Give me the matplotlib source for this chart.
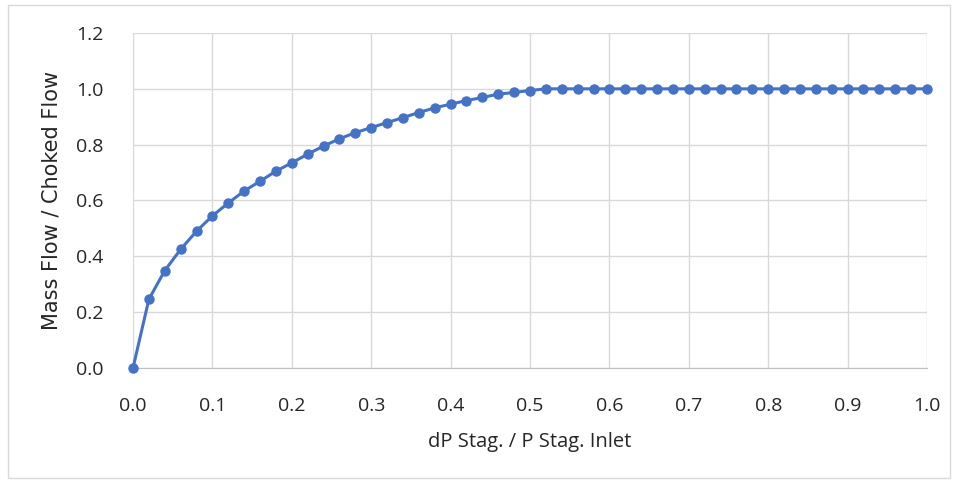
import matplotlib
matplotlib.use('Agg')
import matplotlib.pyplot as plt
import numpy as np

# pressure ratio (x) and normalised mass flow (y)
dp_ratio = [round(0.02 * i, 2) for i in range(51)]
flow_rise = [0.0, 0.246, 0.349, 0.425, 0.490, 0.545, 0.591, 0.634, 0.669, 0.705,
             0.735, 0.766, 0.795, 0.821, 0.843, 0.861, 0.879, 0.897, 0.915, 0.932,
             0.945, 0.958, 0.969, 0.981, 0.987, 0.994]
mass_flow = flow_rise + [1.0] * (len(dp_ratio) - len(flow_rise))

xticks = [0.0, 0.1, 0.2, 0.3, 0.4, 0.5, 0.6, 0.7, 0.8, 0.9, 1.0]
yticks = [0.0, 0.2, 0.4, 0.6, 0.8, 1.0, 1.2]

fig = plt.figure(figsize=(9.59, 4.83), dpi=100)
# outer chart border
fig.patches.append(plt.Rectangle((8 / 959, 5 / 483), 942 / 959, 473 / 483,
                                 transform=fig.transFigure, fill=False,
                                 edgecolor='#d9d9d9', linewidth=1))
ax = fig.add_axes([133 / 959, 1 - 368 / 483, (927 - 133) / 959, (368 - 33) / 483])

ax.plot(dp_ratio, mass_flow, color='#4472C4', linewidth=2.2,
        marker='o', markersize=6.5, zorder=3, clip_on=False)

ax.set_xlim(0, 1.0)
ax.set_ylim(0, 1.2)
ax.set_xticks(xticks)
ax.set_yticks(yticks)
ax.set_xticklabels([f'{t:.1f}' for t in xticks])
ax.set_yticklabels([f'{t:.1f}' for t in yticks])
ax.grid(True, color='#d9d9d9', linewidth=1)
ax.set_axisbelow(True)
for s in ['top', 'right', 'left']:
    ax.spines[s].set_visible(False)
ax.spines['bottom'].set_color('#bfbfbf')
ax.tick_params(axis='x', length=0, labelsize=14, labelcolor='#262626', pad=21)
ax.tick_params(axis='y', length=0, labelsize=14, labelcolor='#262626', pad=21)
for lab in ax.get_xticklabels() + ax.get_yticklabels():
    lab.set_family('Open Sans')

ax.set_xlabel('dP Stag. / P Stag. Inlet', fontsize=14.5, color='#262626',
              family='Open Sans', labelpad=12)
ax.set_ylabel('Mass Flow / Choked Flow', fontsize=15, color='#262626',
              family='DejaVu Sans', labelpad=11)

plt.savefig('out.png', dpi=100)
